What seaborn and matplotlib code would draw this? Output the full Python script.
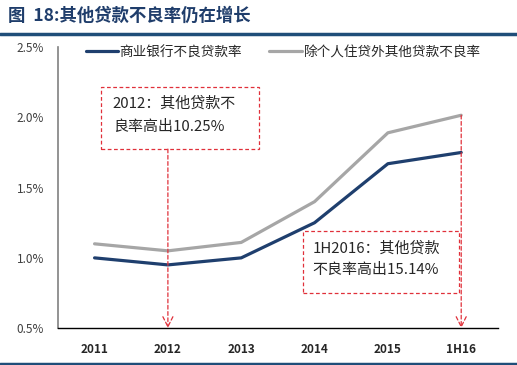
"""NPL ratio of other loans still rising."""
import matplotlib
matplotlib.use('Agg')
import matplotlib.pyplot as plt
import seaborn as sns
import pandas as pd
from matplotlib.patches import Rectangle
from matplotlib.lines import Line2D

periods = ['2011', '2012', '2013', '2014', '2015', '1H16']
bank_npl = [1.00, 0.95, 1.00, 1.25, 1.67, 1.75]
other_npl = [1.10, 1.05, 1.11, 1.40, 1.89, 2.015]
series_names = ['商业银行不良贷款率', '除个人住贷外其他贷款不良率']
y_ticks = [0.5, 1.0, 1.5, 2.0, 2.5]

navy = '#1F3F6E'
grey = '#A6A6A6'
red = '#E0303A'

sns.set_style('white')
plt.rcParams['font.family'] = ['Noto Sans CJK SC', 'DejaVu Sans']

df = pd.DataFrame({
    'period': periods * 2,
    'value': bank_npl + other_npl,
    'series': [series_names[0]] * len(periods) + [series_names[1]] * len(periods),
})

fig = plt.figure(figsize=(5.17, 3.65), dpi=100)
ax = fig.add_axes([0.112, 0.101, 0.851, 0.770])

sns.lineplot(data=df, x='period', y='value', hue='series',
             palette=[navy, grey], linewidth=2.3, ax=ax, legend=False)
# draw navy on top
ax.lines[0].set_zorder(3)

ax.set_xlim(-0.5, 5.5)
ax.set_ylim(0.5, 2.5)
ax.set_yticks(y_ticks)
ax.set_yticklabels([f'{v:.1f}%' for v in y_ticks])
ax.set_xlabel('')
ax.set_ylabel('')
ax.tick_params(axis='y', length=4, direction='inout', color='#808080',
               labelsize=8.5, labelcolor='#404040', pad=8)
ax.tick_params(axis='x', length=0, labelsize=8.5, labelcolor='#262626', pad=11)
for lbl in ax.get_xticklabels():
    lbl.set_fontweight('bold')
for s in ['top', 'right']:
    ax.spines[s].set_visible(False)
ax.spines['left'].set_color('#808080')
ax.spines['left'].set_linewidth(1.2)
ax.spines['bottom'].set_color('black')
ax.spines['bottom'].set_linewidth(1.0)

handles = [Line2D([], [], color=navy, lw=2.3), Line2D([], [], color=grey, lw=2.3)]
fig.legend(handles, series_names, loc='center left', bbox_to_anchor=(0.155, 0.857),
           ncol=2, frameon=False, fontsize=9.8, handlelength=2.4, handletextpad=0.1,
           columnspacing=2.0, borderaxespad=0)

# annotation boxes
trans = ax.get_xaxis_transform()
arrow = dict(arrowstyle='->', color=red, lw=0.9, ls=(0, (3, 2)),
             shrinkA=0, shrinkB=0, mutation_scale=18)
ax.add_patch(Rectangle((0.098, 0.637), 0.359, 0.221, transform=ax.transAxes,
                       fill=False, ec=red, lw=0.9, ls=(0, (3, 2))))
ax.text(0.125, 0.80, '2012：其他贷款不', transform=ax.transAxes, fontsize=10.8,
        color='#262626', va='center')
ax.text(0.125, 0.715, '良率高出10.25%', transform=ax.transAxes, fontsize=10.8,
        color='#262626', va='center')
ax.annotate('', xy=(1, 0.0), xycoords=trans, xytext=(1, 0.637), textcoords=trans,
            arrowprops=arrow)

ax.add_patch(Rectangle((0.557, 0.125), 0.354, 0.220, transform=ax.transAxes,
                       fill=False, ec=red, lw=0.9, ls=(0, (3, 2))))
ax.text(0.578, 0.282, '1H2016：其他贷款', transform=ax.transAxes, fontsize=10.8,
        color='#262626', va='center')
ax.text(0.578, 0.207, '不良率高出15.14%', transform=ax.transAxes, fontsize=10.8,
        color='#262626', va='center')
ax.annotate('', xy=(5, 0.5), xytext=(5, other_npl[-1]), arrowprops=arrow)

# header and footer
fig.text(0.016, 0.958, '图  18:其他贷款不良率仍在增长', fontsize=12.5, fontweight='bold',
         color='#1F3D6B', va='center')
fig.add_artist(Line2D([0, 1], [0.906, 0.906], color='#1F4E79', lw=2.5,
                      transform=fig.transFigure))
fig.add_artist(Line2D([0, 1], [0.004, 0.004], color='#1F4E79', lw=2.5,
                      transform=fig.transFigure))

fig.savefig('out.png', dpi=100)
